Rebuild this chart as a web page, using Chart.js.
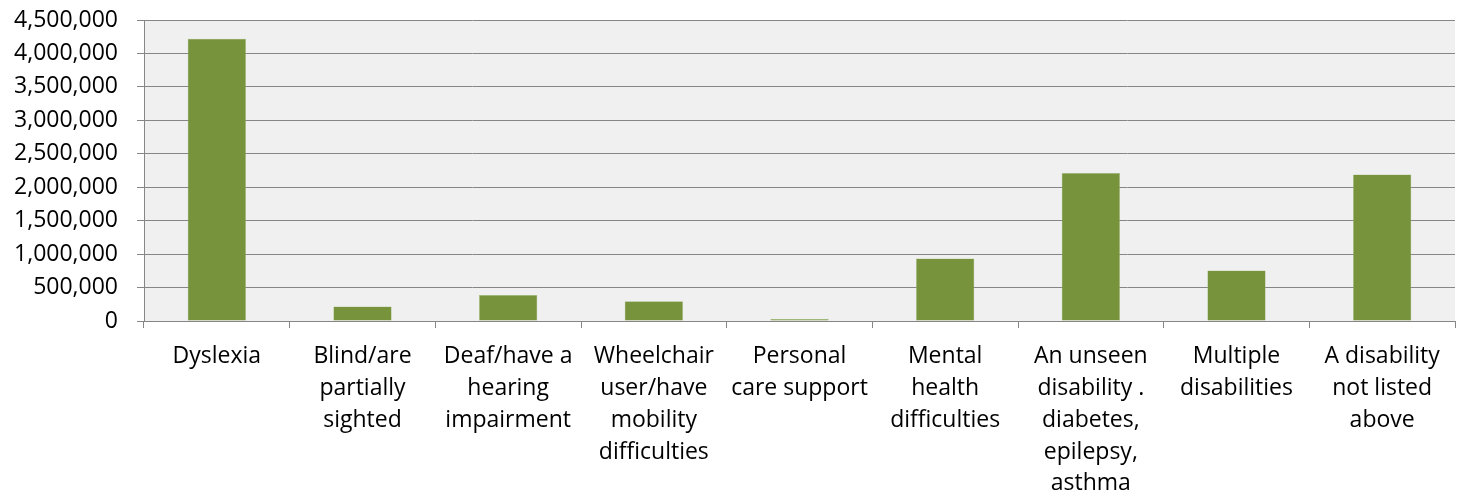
<!DOCTYPE html>
<html>
<head>
<meta charset="utf-8">
<script src="https://cdn.jsdelivr.net/npm/chart.js@4.4.1/dist/chart.umd.min.js"></script>
<style>
  html, body { margin: 0; padding: 0; background: #ffffff; }
  #wrap { width: 1462px; height: 497px; position: relative; }
</style>
</head>
<body>
<div id="wrap"><canvas id="c" width="1462" height="497"></canvas></div>
<script>
const categories = [
  "Dyslexia",
  ["Blind/are", "partially", "sighted"],
  ["Deaf/have a", "hearing", "impairment"],
  ["Wheelchair", "user/have", "mobility", "difficulties"],
  ["Personal", "care support"],
  ["Mental", "health", "difficulties"],
  ["An unseen", "disability .", "diabetes,", "epilepsy,", "asthma"],
  ["Multiple", "disabilities"],
  ["A disability", "not listed", "above"]
];
const values = [4220000, 215000, 390000, 295000, 30000, 935000, 2212000, 755000, 2192000];
const yTicks = [0, 500000, 1000000, 1500000, 2000000, 2500000, 3000000, 3500000, 4000000, 4500000];

const plotBg = {
  id: 'plotBg',
  beforeDraw(chart) {
    const a = chart.chartArea, ctx = chart.ctx;
    ctx.save();
    ctx.fillStyle = '#f0f0f0';
    ctx.fillRect(a.left, a.top, a.right - a.left, a.bottom - a.top);
    ctx.restore();
  }
};

const FONT = 'Open Sans';
new Chart(document.getElementById('c'), {
  type: 'bar',
  data: {
    labels: categories,
    datasets: [{
      data: values,
      backgroundColor: '#77933c',
      borderColor: '#a6bf7e',
      borderWidth: 0.5,
      categoryPercentage: 1.0,
      barPercentage: 0.4
    }]
  },
  options: {
    responsive: false,
    animation: false,
    devicePixelRatio: 1,
    layout: { padding: { left: 0, right: 7, top: 20, bottom: 0 } },
    plugins: { legend: { display: false }, tooltip: { enabled: false } },
    scales: {
      x: {
        grid: { offset: true, drawOnChartArea: false, drawTicks: true, tickLength: 7, color: '#868686', lineWidth: 1 },
        border: { display: true, color: '#868686', width: 1 },
        ticks: {
          color: '#000000', font: { family: FONT, size: 23, lineHeight: 1.38 },
          padding: 13, maxRotation: 0, autoSkip: false
        },
        afterFit(s) { s.height = 176; s.paddingLeft = 0; s.paddingRight = 0; }
      },
      y: {
        min: 0, max: 4500000,
        afterBuildTicks(s) { s.ticks = yTicks.map(v => ({ value: v })); },
        grid: { color: '#868686', lineWidth: 1, tickLength: 7, drawTicks: true },
        border: { display: true, color: '#868686', width: 1 },
        ticks: {
          color: '#000000', font: { family: FONT, size: 23 }, padding: 19,
          callback: v => v.toLocaleString('en-US')
        },
        afterFit(s) { s.width = 144; s.paddingTop = 0; s.paddingBottom = 0; }
      }
    }
  },
  plugins: [plotBg]
});
</script>
</body>
</html>
